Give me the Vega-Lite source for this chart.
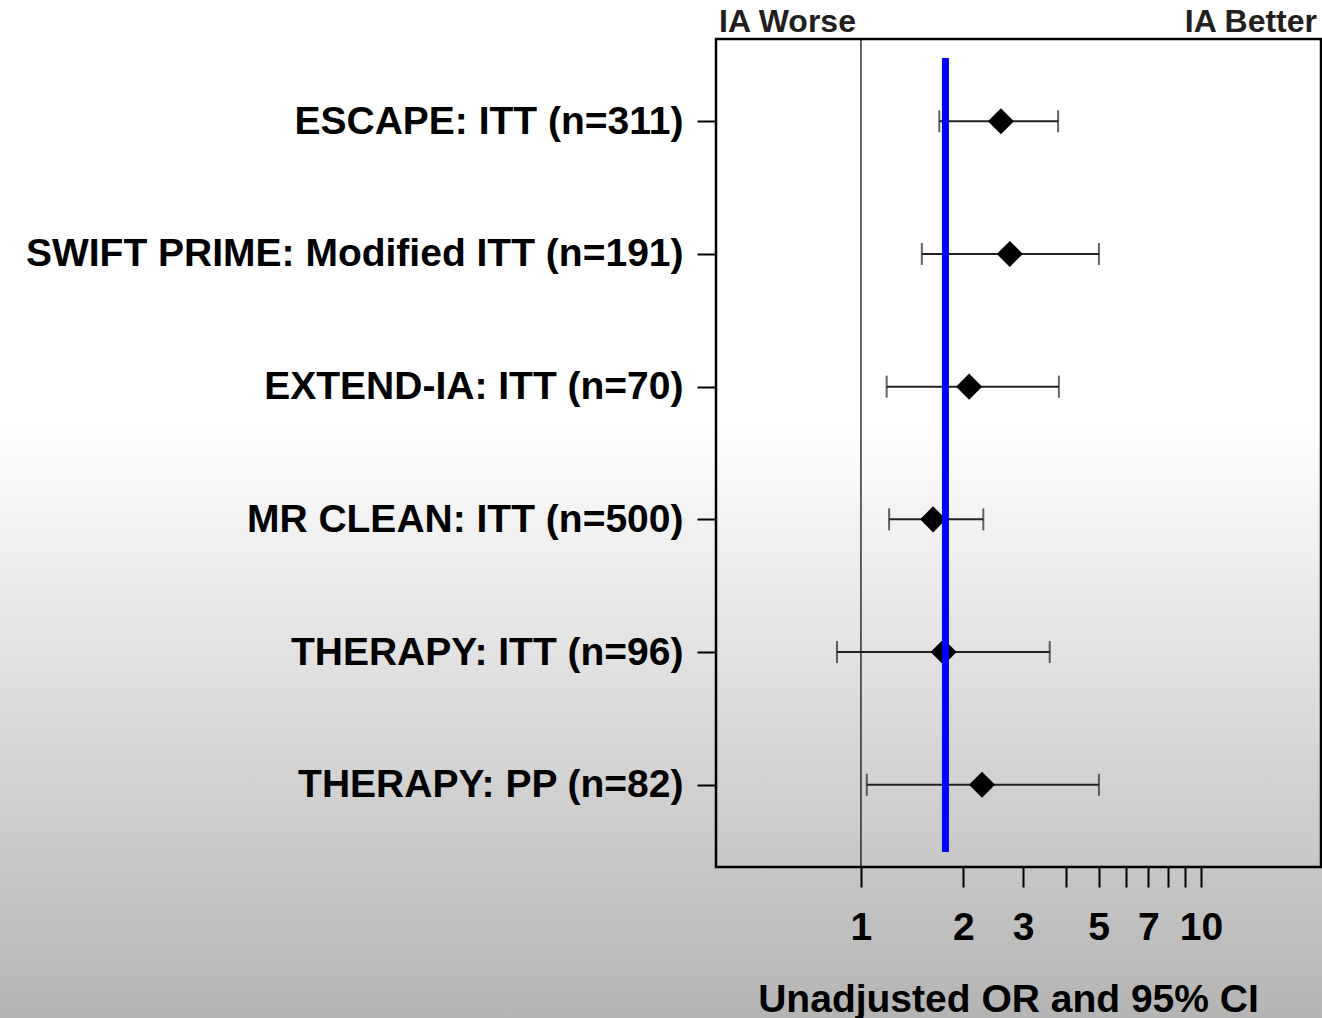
{
  "$schema": "https://vega.github.io/schema/vega-lite/v6.json",
  "autosize": "none",
  "width": 1322,
  "height": 1018,
  "padding": 0,
  "background": "#ffffff",
  "config": {
    "font": "Liberation Sans",
    "view": {
      "stroke": null,
      "fill": {"gradient": "linear", "x1": 0, "y1": 0, "x2": 0, "y2": 1, "stops": [{"offset": 0, "color": "#ffffff"}, {"offset": 0.415, "color": "#ffffff"}, {"offset": 1, "color": "#b4b4b4"}]}
    }
  },
  "datasets": {
    "trials": [
      {"trial": "ESCAPE: ITT (n=311)", "or": 2.58, "lo": 1.70, "hi": 3.80},
      {"trial": "SWIFT PRIME: Modified ITT (n=191)", "or": 2.74, "lo": 1.51, "hi": 5.01},
      {"trial": "EXTEND-IA: ITT (n=70)", "or": 2.08, "lo": 1.19, "hi": 3.82},
      {"trial": "MR CLEAN: ITT (n=500)", "or": 1.63, "lo": 1.21, "hi": 2.29},
      {"trial": "THERAPY: ITT (n=96)", "or": 1.75, "lo": 0.85, "hi": 3.59},
      {"trial": "THERAPY: PP (n=82)", "or": 2.27, "lo": 1.04, "hi": 5.01}
    ],
    "pooled": [{"or": 1.772, "lo": 0.018, "hi": 0.977}],
    "frame": [{"xmin": 0.3747, "xmax": 22.54, "ymin": 0, "ymax": 1, "null_or": 1}]
  },
  "resolve": {"scale": {"y": "independent"}, "axis": {"y": "independent"}},
  "layer": [
    {
      "data": {"name": "frame"},
      "layer": [
        {
          "mark": {"type": "rule", "color": "#000000", "strokeWidth": 1.2},
          "encoding": {
            "x": {
              "field": "null_or",
              "type": "quantitative",
              "scale": {"type": "log", "domain": [0.3747, 22.54], "nice": false, "range": [716, 1321]},
              "axis": {
                "title": "Unadjusted OR and 95% CI",
                "offset": -151,
                "values": [1, 2, 3, 4, 5, 6, 7, 8, 9, 10],
                "format": "d",
                "labelExpr": "indexof([1, 2, 3, 5, 7, 10], datum.value) >= 0 ? datum.label : ''",
                "labelFontSize": 39,
                "labelFontWeight": "bold",
                "labelColor": "#000000",
                "labelPadding": 21,
                "labelFlush": false,
                "labelOverlap": false,
                "tickSize": 20,
                "tickWidth": 2,
                "tickColor": "#000000",
                "domain": false,
                "grid": false,
                "titleFontSize": 39,
                "titleFontWeight": "bold",
                "titleColor": "#000000",
                "titleBaseline": "alphabetic",
                "titleAlign": "center",
                "titleX": 1008,
                "titleY": 144
              }
            },
            "y": {"field": "ymin", "type": "quantitative", "scale": {"domain": [0, 1], "nice": false, "zero": false, "range": [867, 39]}, "axis": null},
            "y2": {"field": "ymax"}
          }
        },
        {
          "mark": {"type": "rect", "fillOpacity": 0, "stroke": "#000000", "strokeWidth": 2.5},
          "encoding": {
            "x": {
              "field": "xmin",
              "type": "quantitative",
              "scale": {"type": "log", "domain": [0.3747, 22.54], "nice": false, "range": [716, 1321]},
              "axis": {"title": "Unadjusted OR and 95% CI"}
            },
            "x2": {"field": "xmax"},
            "y": {"field": "ymin", "type": "quantitative", "scale": {"domain": [0, 1], "nice": false, "zero": false, "range": [867, 39]}, "axis": null},
            "y2": {"field": "ymax"}
          }
        }
      ]
    },
    {
      "data": {"name": "trials"},
      "encoding": {
        "y": {
          "field": "trial",
          "type": "nominal",
          "sort": null,
          "scale": {"type": "point", "padding": 0.62, "range": [39, 867]},
          "axis": {
            "title": null,
            "offset": -716,
            "labelFontSize": 39,
            "labelFontWeight": "bold",
            "labelColor": "#000000",
            "labelLimit": 0,
            "labelPadding": 14,
            "tickSize": 19,
            "tickWidth": 2,
            "tickColor": "#000000",
            "domain": false,
            "grid": false
          }
        }
      },
      "layer": [
        {
          "mark": {"type": "rule", "color": "#222222", "strokeWidth": 2},
          "encoding": {
            "x": {
              "field": "lo",
              "type": "quantitative",
              "scale": {"type": "log", "domain": [0.3747, 22.54], "nice": false, "range": [716, 1321]},
              "axis": {"title": "Unadjusted OR and 95% CI"}
            },
            "x2": {"field": "hi"}
          }
        },
        {
          "mark": {"type": "tick", "color": "#222222", "thickness": 2, "size": 22},
          "encoding": {
            "x": {
              "field": "lo",
              "type": "quantitative",
              "scale": {"type": "log", "domain": [0.3747, 22.54], "nice": false, "range": [716, 1321]},
              "axis": {"title": "Unadjusted OR and 95% CI"}
            }
          }
        },
        {
          "mark": {"type": "tick", "color": "#222222", "thickness": 2, "size": 22},
          "encoding": {
            "x": {
              "field": "hi",
              "type": "quantitative",
              "scale": {"type": "log", "domain": [0.3747, 22.54], "nice": false, "range": [716, 1321]},
              "axis": {"title": "Unadjusted OR and 95% CI"}
            }
          }
        },
        {
          "mark": {"type": "point", "shape": "diamond", "filled": true, "color": "#000000", "opacity": 1, "size": 680},
          "encoding": {
            "x": {
              "field": "or",
              "type": "quantitative",
              "scale": {"type": "log", "domain": [0.3747, 22.54], "nice": false, "range": [716, 1321]},
              "axis": {"title": "Unadjusted OR and 95% CI"}
            }
          }
        }
      ]
    },
    {
      "layer": [
        {
          "data": {"name": "pooled"},
          "mark": {"type": "rule", "color": "#0000ff", "strokeWidth": 7},
          "encoding": {
            "x": {
              "field": "or",
              "type": "quantitative",
              "scale": {"type": "log", "domain": [0.3747, 22.54], "nice": false, "range": [716, 1321]},
              "axis": {"title": "Unadjusted OR and 95% CI"}
            },
            "y": {"field": "lo", "type": "quantitative", "scale": {"domain": [0, 1], "nice": false, "zero": false, "range": [867, 39]}, "axis": null},
            "y2": {"field": "hi"}
          }
        },
        {
          "data": {"values": [{"label": "IA Worse", "or": 0.3747}]},
          "mark": {"type": "text", "align": "left", "baseline": "alphabetic", "dx": 3, "dy": -7, "fontSize": 32, "fontWeight": "bold", "color": "#231f20"},
          "encoding": {
            "x": {
              "field": "or",
              "type": "quantitative",
              "scale": {"type": "log", "domain": [0.3747, 22.54], "nice": false, "range": [716, 1321]},
              "axis": {"title": "Unadjusted OR and 95% CI"}
            },
            "y": {"datum": 1, "type": "quantitative", "scale": {"domain": [0, 1], "nice": false, "zero": false, "range": [867, 39]}, "axis": null},
            "text": {"field": "label"}
          }
        },
        {
          "data": {"values": [{"label": "IA Better", "or": 22.54}]},
          "mark": {"type": "text", "align": "right", "baseline": "alphabetic", "dx": -4, "dy": -7, "fontSize": 32, "fontWeight": "bold", "color": "#231f20"},
          "encoding": {
            "x": {
              "field": "or",
              "type": "quantitative",
              "scale": {"type": "log", "domain": [0.3747, 22.54], "nice": false, "range": [716, 1321]},
              "axis": {"title": "Unadjusted OR and 95% CI"}
            },
            "y": {"datum": 1, "type": "quantitative", "scale": {"domain": [0, 1], "nice": false, "zero": false, "range": [867, 39]}, "axis": null},
            "text": {"field": "label"}
          }
        }
      ]
    }
  ]
}
